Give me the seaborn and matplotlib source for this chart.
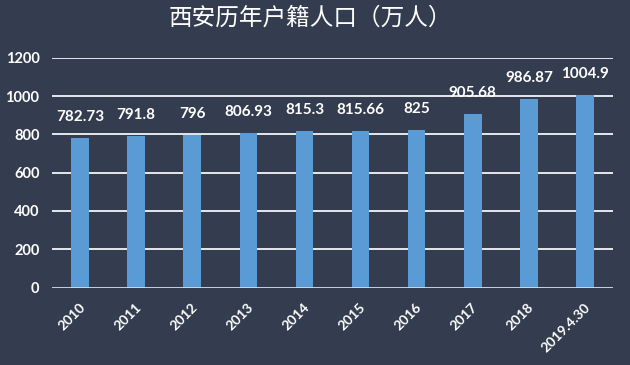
import matplotlib
matplotlib.use("Agg")
import matplotlib.pyplot as plt
import matplotlib.transforms as mtransforms
import seaborn as sns
import pandas as pd

title = "西安历年户籍人口（万人）"
years = ["2010", "2011", "2012", "2013", "2014", "2015", "2016", "2017", "2018", "2019.4.30"]
population = [782.73, 791.8, 796, 806.93, 815.3, 815.66, 825, 905.68, 986.87, 1004.9]
yticks = [0, 200, 400, 600, 800, 1000, 1200]

BG = "#333d4f"
BAR = "#5b9bd5"

sns.set_theme(style="dark")
plt.rcParams["font.family"] = ["Lato", "DejaVu Sans"]

df = pd.DataFrame({"year": years, "pop": population})

fig = plt.figure(figsize=(6.3, 3.65), dpi=100, facecolor=BG)
ax = fig.add_axes([52 / 630, 1 - 287.5 / 365, 561 / 630, (287.5 - 57.7) / 365])
ax.set_facecolor(BG)

sns.barplot(data=df, x="year", y="pop", color=BAR, width=0.315, saturation=1,
            ax=ax, zorder=3, edgecolor="none")

ax.set_ylim(0, 1200)
ax.set_xlim(-0.5, len(years) - 0.5)
ax.set_yticks(yticks)
ax.set_yticklabels([str(t) for t in yticks], fontsize=10.5, fontweight="bold", color="white")
for t in yticks[1:]:
    ax.axhline(t, color="#e4e7ec", lw=1.4, zorder=1)
ax.axhline(0, color="#d3e0ee", lw=2.0, zorder=4)

for s in ax.spines.values():
    s.set_visible(False)
ax.grid(False)
ax.set_xlabel("")
ax.set_ylabel("")
ax.tick_params(axis="y", length=0, pad=9)
ax.tick_params(axis="x", length=0, pad=13)

ax.set_xticks(range(len(years)))
ax.set_xticklabels(years, rotation=45, ha="right", va="center", rotation_mode="anchor",
                   fontsize=10, fontweight="bold", color="white")
offset = mtransforms.ScaledTranslation(3 / 100, 0, fig.dpi_scale_trans)
for lab in ax.get_xticklabels():
    lab.set_transform(lab.get_transform() + offset)

for i, v in enumerate(population):
    ax.annotate(f"{v:g}", xy=(i, v), xytext=(0, 10), textcoords="offset points",
                ha="center", va="bottom", fontsize=11, fontweight="bold",
                color="white", zorder=5)

fig.text(0.492, 1 - 18 / 365, title, ha="center", va="center", fontsize=17,
         color="white", family=["Noto Sans CJK SC", "DejaVu Sans"])

fig.savefig("out.png", dpi=100, facecolor=BG)
